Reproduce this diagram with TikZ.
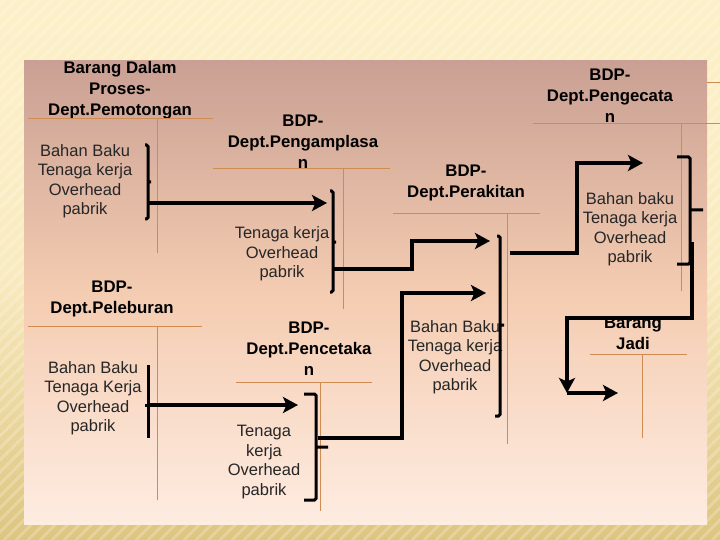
\documentclass[tikz,border=0pt]{standalone}
\usepackage{fontspec}
\setmainfont{Liberation Sans}
\usepackage{xcolor}
\usepackage{tikz}
\usetikzlibrary{arrows.meta,positioning,calc}

\definecolor{slidecream}{RGB}{253,240,200}
\definecolor{slidegold}{RGB}{221,197,128}
\definecolor{panelrose}{RGB}{201,160,147}
\definecolor{panelpeach}{RGB}{244,204,177}
\definecolor{panellight}{RGB}{254,236,225}
\definecolor{tline}{RGB}{206,140,82}

\begin{document}
\begin{tikzpicture}[x=1pt, y=-1pt,
title/.style={font=\fontsize{16.8}{21}\selectfont\bfseries, align=center, inner sep=0pt},
items/.style={font=\fontsize{16.5}{19.5}\selectfont, align=center, inner sep=0pt, text=black!85},
taccount/.style={draw=tline, line width=0.9pt},
bracket/.style={line width=3pt, rounded corners=1.5pt},
flow/.style={line width=4pt, line join=miter, -{Stealth[length=15pt, width=16pt, inset=3.5pt]}}
]
\useasboundingbox (0,0) rectangle (720,540);

% slide background
\fill[top color=slidecream, bottom color=slidegold, middle color=slidecream!88!slidegold] (0,0) rectangle (720,540);
\begin{scope}
\clip (0,0) rectangle (720,540);
\foreach \k in {-560,-548,...,720}
  \draw[white, opacity=0.22, line width=3pt] (\k,540) -- (\k+540,0);
\end{scope}
\fill[top color=panelrose, bottom color=panellight, middle color=panelpeach] (24,61) rectangle (707,524);

% titles
\node[title] (pemotongan) at (120,90) {Barang Dalam\\Proses-\\Dept.Pemotongan};
\node[title] (pengamplasan) at (303,142) {BDP-\\Dept.Pengamplasa\\n};
\node[title] (perakitan) at (466,183) {BDP-\\Dept.Perakitan};
\node[title] (pengecatan) at (610,96) {BDP-\\Dept.Pengecata\\n};
\node[title] (jadi) at (633,333) {Barang\\Jadi};
\node[title] (peleburan) at (112,299) {BDP-\\Dept.Peleburan};
\node[title] (pencetakan) at (309,349) {BDP-\\Dept.Pencetaka\\n};

% cost items
\node[items] (itemsPemotongan) at (85,181) {Bahan Baku\\Tenaga kerja\\Overhead\\pabrik};
\node[items] (itemsPengamplasan) at (282,254) {Tenaga kerja\\Overhead\\pabrik};
\node[items] (itemsPerakitan) at (455,357) {Bahan Baku\\Tenaga kerja\\Overhead\\pabrik};
\node[items] (itemsPengecatan) at (630,229) {Bahan baku\\Tenaga kerja\\Overhead\\pabrik};
\node[items] (itemsPeleburan) at (93,398) {Bahan Baku\\Tenaga Kerja\\Overhead\\pabrik};
\node[items] (itemsPencetakan) at (264,462) {Tenaga\\kerja\\Overhead\\pabrik};

% T accounts
\draw[taccount] (28,118) -- (213,118) (157,118) -- (157,253);
\draw[taccount] (213,168) -- (390,168) (343,168) -- (343,309);
\draw[taccount] (393,213) -- (540,213) (507,213) -- (507,444);
\draw[taccount] (533,123) -- (720,123) (681,123) -- (681,291);
\draw[taccount] (707,82) -- (720,82);
\draw[taccount] (590,354) -- (687,354) (642,354) -- (642,438);
\draw[taccount] (28,326) -- (202,326) (157,326) -- (157,500);
\draw[taccount] (236,382) -- (372,382) (320,382) -- (320,511);

% brackets
\draw[bracket] (145,145) -- (148,145) -- (148,219) -- (145,219) (148,182) -- (151,182);
\draw[bracket] (330,191) -- (333,191) -- (333,292) -- (330,292) (333,242) -- (336,242);
\draw[bracket] (497,236) -- (500,236) -- (500,416) -- (495,416) (500,325) -- (504,325);
\draw[bracket] (677,157) -- (690,157) -- (690,264) -- (677,264) (690,210) -- (703,210);
\draw[bracket] (148,365) -- (148,438) (145,405) -- (148,405);
\draw[bracket] (304,394) -- (316,394) -- (316,500) -- (304,500) (316,447) -- (328,447);

% flows
\coordinate (outPemotongan) at (149,203);
\coordinate (inPengamplasan) at (327,203);
\coordinate (outPengamplasan) at (333,269);
\coordinate (inPerakitanTop) at (490,241);
\coordinate (outPeleburan) at (147,405);
\coordinate (inPencetakan) at (298,405);
\coordinate (outPencetakan) at (318,438);
\coordinate (inPerakitanLow) at (486,293);
\coordinate (outPerakitan) at (510,253);
\coordinate (inPengecatan) at (643,163);
\coordinate (outPengecatan) at (692,242);
\coordinate (downJadi) at (567,393);
\coordinate (inJadi) at (618,393);

\draw[flow] (outPemotongan) -- (inPengamplasan);
\draw[flow] (outPengamplasan) -| ($(outPengamplasan)!.5!(inPerakitanTop)$) |- (inPerakitanTop);
\draw[flow] (outPeleburan) -- (inPencetakan);
\draw[flow] (outPencetakan) -| ($(outPencetakan)!.5!(inPerakitanLow)$) |- (inPerakitanLow);
\draw[flow] (outPerakitan) -| ($(outPerakitan)!.5!(inPengecatan)$) |- (inPengecatan);
\draw[flow] (outPengecatan) |- ($(outPengecatan)!.5!(downJadi)$) -| (downJadi);
\draw[flow] (downJadi) -- (inJadi);
\end{tikzpicture}
\end{document}
